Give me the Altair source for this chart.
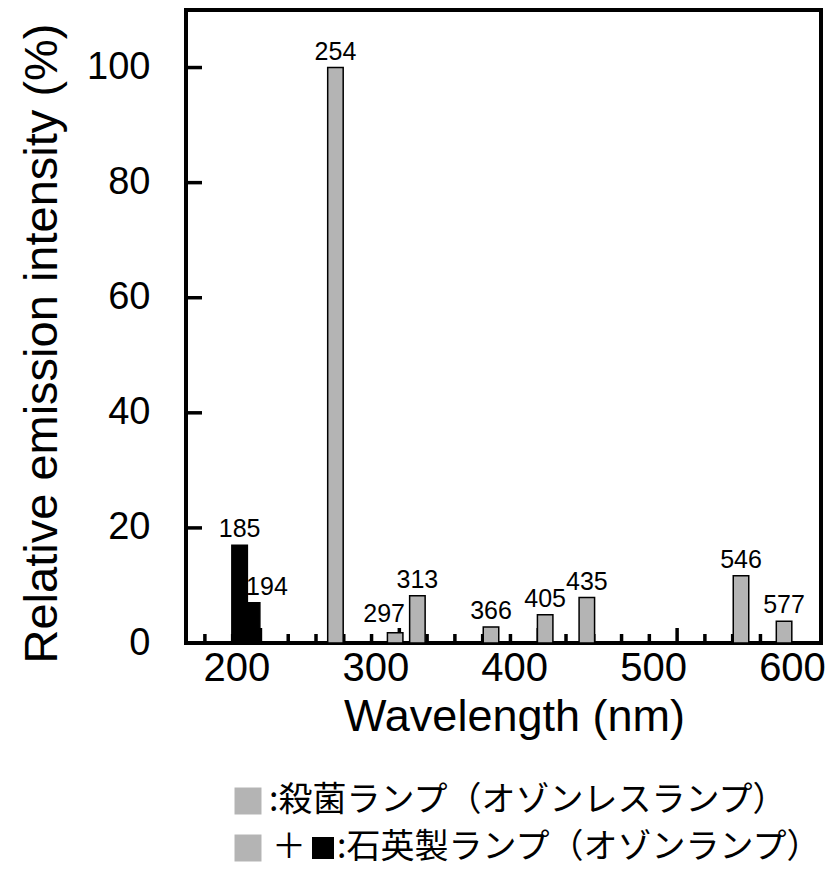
import altair as alt
import pandas as pd

# ---- data ----
wavelengths = [185, 194, 254, 297, 313, 366, 405, 435, 546, 577]
intensities = [17.0, 7.0, 100.0, 1.8, 8.2, 2.8, 4.9, 7.9, 11.7, 3.8]
lamp_types = ["石英製ランプ", "石英製ランプ", "殺菌ランプ", "殺菌ランプ", "殺菌ランプ",
              "殺菌ランプ", "殺菌ランプ", "殺菌ランプ", "殺菌ランプ", "殺菌ランプ"]

x_label_values = [200, 300, 400, 500, 600]
x_minor_ticks = [160, 180, 220, 240, 260, 280, 320, 340, 360, 380,
                 420, 440, 460, 480, 520, 540, 560, 580]
x_major_ticks = [200, 300, 400, 500]
y_tick_values = [0, 20, 40, 60, 80, 100]

x_title = "Wavelength (nm)"
y_title = "Relative emission intensity (%)"
legend_row1 = ":殺菌ランプ（オゾンレスランプ）"
legend_plus = "＋"
legend_row2 = ":石英製ランプ（オゾンランプ）"

GREY = "#b4b4b4"
LATIN = "Liberation Sans"
CJK = "Noto Sans CJK JP"
W, H = 635, 633

df = pd.DataFrame({
    "wl": wavelengths,
    "val": intensities,
    "lamp": lamp_types,
    "label": [str(w) for w in wavelengths],
})
minor_df = pd.DataFrame({"t": x_minor_ticks})
major_df = pd.DataFrame({"t": x_major_ticks})
ytick_df = pd.DataFrame({"t": y_tick_values})
one = pd.DataFrame({"a": [0]})

xscale = alt.Scale(domain=[150, 600], nice=False, zero=False)
yscale = alt.Scale(domain=[0, 110], nice=False)

x_axis = alt.Axis(
    values=x_label_values, ticks=False, tickSize=0, domain=False, grid=False,
    labelFont=LATIN, labelFontSize=40, labelPadding=5, labelOffset=-24,
    labelColor="black", labelFlush=False,
    title=x_title, titleFont=LATIN, titleFontSize=45, titleFontWeight="normal",
    titleColor="black", titleX=328, titleY=87, titleBaseline="alphabetic",
)
y_axis = alt.Axis(
    values=y_tick_values, ticks=False, tickSize=0, domain=False, grid=False,
    labelFont=LATIN, labelFontSize=38, labelPadding=36, labelColor="black",
    title=y_title, titleFont=LATIN, titleFontSize=47, titleFontWeight="normal",
    titleColor="black", titleX=-130, titleY=333, titleBaseline="alphabetic",
)

minor_rules = alt.Chart(minor_df).mark_rule(color="black", strokeWidth=3.5).encode(
    x=alt.X("t:Q", scale=xscale, axis=x_axis),
    y=alt.value(H), y2=alt.value(H - 9),
)
major_rules = alt.Chart(major_df).mark_rule(color="black", strokeWidth=3.5).encode(
    x=alt.X("t:Q", scale=xscale, axis=x_axis),
    y=alt.value(H), y2=alt.value(H - 15),
)
y_rules = alt.Chart(ytick_df).mark_rule(color="black", strokeWidth=3.5).encode(
    y=alt.Y("t:Q", scale=yscale, axis=y_axis),
    x=alt.value(0), x2=alt.value(16),
)

bars = alt.Chart(df).mark_bar(size=15.5, stroke="black", strokeWidth=1.5).encode(
    x=alt.X("wl:Q", scale=xscale, axis=x_axis),
    y=alt.Y("val:Q", scale=yscale, axis=y_axis),
    color=alt.Color("lamp:N", scale=alt.Scale(domain=["石英製ランプ", "殺菌ランプ"],
                                             range=["#000000", GREY]), legend=None),
)

text_base = alt.Chart(df).encode(
    x=alt.X("wl:Q", scale=xscale, axis=x_axis),
    y=alt.Y("val:Q", scale=yscale, axis=y_axis),
    text="label:N",
)
labels_main = text_base.transform_filter(
    "datum.wl != 194 && datum.wl != 297"
).mark_text(font=LATIN, fontSize=25, baseline="alphabetic", dy=-8, color="black")
label_194 = text_base.transform_filter("datum.wl == 194").mark_text(
    font=LATIN, fontSize=25, baseline="alphabetic", align="left", dx=-6, dy=-8, color="black")
label_297 = text_base.transform_filter("datum.wl == 297").mark_text(
    font=LATIN, fontSize=25, baseline="alphabetic", dx=-11, dy=-11, color="black")

ROW1, ROW2 = 791, 838
sq1 = alt.Chart(one).mark_square(size=729, color=GREY, opacity=1).encode(
    x=alt.value(62), y=alt.value(ROW1))
sq2 = alt.Chart(one).mark_square(size=729, color=GREY, opacity=1).encode(
    x=alt.value(62), y=alt.value(ROW2))
sq_black = alt.Chart(one).mark_square(size=484, color="black", opacity=1).encode(
    x=alt.value(137), y=alt.value(ROW2))
leg1 = alt.Chart(one).mark_text(text=legend_row1, font=CJK, fontSize=34, align="left",
                                baseline="middle", color="black").encode(
    x=alt.value(83), y=alt.value(ROW1))
leg_plus = alt.Chart(one).mark_text(text=legend_plus, font=CJK, fontSize=34, align="left",
                                    baseline="middle", color="black").encode(
    x=alt.value(86), y=alt.value(ROW2))
leg2 = alt.Chart(one).mark_text(text=legend_row2, font=CJK, fontSize=34, align="left",
                                baseline="middle", color="black").encode(
    x=alt.value(151), y=alt.value(ROW2))

chart = alt.layer(
    minor_rules, major_rules, y_rules, bars, labels_main, label_194, label_297,
    sq1, sq2, sq_black, leg1, leg_plus, leg2,
).properties(
    width=W, height=H,
    padding={"left": 178, "top": 2, "right": 9, "bottom": 224},
    autosize=alt.AutoSizeParams(type="none"),
).configure_view(stroke="black", strokeWidth=4)

chart.save("out.html", embed_options={"renderer": "svg", "actions": False})
